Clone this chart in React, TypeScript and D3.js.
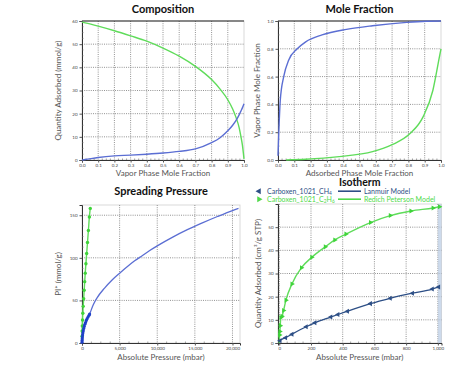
import React, { useRef, useEffect } from 'react';
import * as d3 from 'd3';

// Composition (vapor phase mole fraction vs quantity adsorbed)
const compX = [0, 0.02, 0.1, 0.2, 0.3, 0.4, 0.5, 0.6, 0.7, 0.8, 0.85, 0.9, 0.93, 0.95, 0.97, 0.98, 0.99, 1.0];
const compGreen = [59.5, 59.2, 57.8, 55.8, 53.6, 51.3, 48.3, 44.8, 40.4, 34.7, 30.8, 26.0, 22.0, 18.5, 14.0, 10.5, 6.5, 0.5];
const compBlue = [0, 0.2, 1.1, 1.8, 2.1, 2.5, 3.0, 3.7, 4.8, 7.5, 9.5, 12.6, 15.0, 17.0, 19.5, 21.0, 22.5, 24.3];

// Mole fraction (adsorbed vs vapor)
const mfBlueX = [0, 0.005, 0.014, 0.035, 0.066, 0.118, 0.17, 0.27, 0.42, 0.58, 0.79, 0.91, 1.0];
const mfBlueY = [0.03, 0.2, 0.43, 0.6, 0.72, 0.8, 0.85, 0.9, 0.94, 0.966, 0.99, 0.998, 1.0];
const mfGreenX = [0.05, 0.17, 0.375, 0.58, 0.7, 0.81, 0.89, 0.95, 0.99, 1.0];
const mfGreenY = [0, 0.005, 0.024, 0.06, 0.11, 0.19, 0.31, 0.5, 0.74, 0.8];

// Spreading pressure
const spGreenP = [5, 20, 40, 70, 110, 160, 220, 290, 360, 430, 520, 620, 730, 850, 980, 1100];
const spGreenPi = [8, 14, 20, 27, 35, 43, 52, 62, 72, 82, 93, 105, 118, 132, 148, 158];
const spBlueP = [5, 15, 30, 50, 80, 120, 170, 230, 300, 380, 470, 570, 680, 800, 930, 1010];
const spBluePi = [1, 3, 5, 7, 9.5, 12, 14.5, 17, 19.5, 22, 24, 26.5, 28.5, 30.5, 32.5, 34];
const spModelP = [1010, 1500, 2000, 3000, 4000, 5000, 6000, 7000, 8000, 9000, 10000, 12000, 14000, 16000, 18000, 20000, 20800];
const spModelPi = [34, 45, 53, 64.5, 74, 82, 89.5, 96.5, 102.5, 108.5, 114, 124, 133, 141, 148.5, 155.5, 158];

// Isotherm
const isoCH4P = [5, 40, 80, 170, 225, 325, 370, 430, 575, 700, 840, 965, 1005];
const isoCH4Q = [1.0, 2.3, 3.8, 7.0, 8.7, 11.2, 12.3, 13.7, 17.0, 19.3, 21.5, 23.3, 24.2];
const isoC2H6P = [2, 4, 6, 10, 17, 27, 42, 80, 140, 205, 290, 350, 420, 575, 700, 830, 970, 1010];
const isoC2H6Q = [3.5, 5, 7.5, 11, 11.5, 14, 18.5, 25.5, 32.5, 37, 41.5, 44.5, 47, 52, 55, 57, 58.3, 58.8];

const GREEN = "#5fdc5a";
const BLUE = "#5b6ed3";
const NAVY = "#2d4f86";
const DOT = "#1f40c8";

const zip = (xs: number[], ys: number[]) => xs.map((x, i) => [x, ys[i]] as [number, number]);

const App: React.FC = () => {
  const svgRef = useRef<SVGSVGElement>(null);

  useEffect(() => {
    if (!svgRef.current) return;
    const svg = d3.select(svgRef.current);
    svg.selectAll("*").remove();
    const font = "Lato, 'Open Sans', sans-serif";

    const panel = (o: {
      l: number; r: number; t: number; b: number;
      xd: [number, number]; yd: [number, number];
      xt: number[]; yt: number[]; xf: (d: number) => string; yf: (d: number) => string;
      title: string; ty: number; xl: string; xly: number; yl: string; ylx: number;
      darkTop?: boolean; titleSize?: number;
    }) => {
      const x = d3.scaleLinear().domain(o.xd).range([o.l, o.r]);
      const y = d3.scaleLinear().domain(o.yd).range([o.b, o.t]);
      const g = svg.append("g");
      // frame
      g.append("rect").attr("x", o.l).attr("y", o.t).attr("width", o.r - o.l).attr("height", o.b - o.t)
        .attr("fill", "white").attr("stroke", "#cfcfcf").attr("stroke-width", 0.8);
      // grid
      g.selectAll(".gx").data(o.xt.filter(d => x(d) > o.l + 1 && x(d) < o.r - 1)).enter().append("line")
        .attr("x1", d => x(d)).attr("x2", d => x(d)).attr("y1", o.t).attr("y2", o.b)
        .attr("stroke", "#777").attr("stroke-width", 0.8).attr("stroke-dasharray", "1,1.2");
      g.selectAll(".gy").data(o.yt.filter(d => y(d) < o.b - 1 && y(d) > o.t + 1)).enter().append("line")
        .attr("x1", o.l).attr("x2", o.r).attr("y1", d => y(d)).attr("y2", d => y(d))
        .attr("stroke", "#777").attr("stroke-width", 0.8).attr("stroke-dasharray", "1,1.2");
      if (o.darkTop) {
        g.append("line").attr("x1", o.l).attr("x2", o.r).attr("y1", o.t).attr("y2", o.t)
          .attr("stroke", "#222").attr("stroke-width", 1.2);
      }
      // axes
      const ax = g.append("g").attr("transform", `translate(0,${o.b})`)
        .call(d3.axisBottom(x).tickValues(o.xt).tickSize(2.5).tickPadding(1.5).tickFormat(d => o.xf(d as number)));
      const ay = g.append("g").attr("transform", `translate(${o.l},0)`)
        .call(d3.axisLeft(y).tickValues(o.yt).tickSize(2.5).tickPadding(2).tickFormat(d => o.yf(d as number)));
      [ax, ay].forEach(a => {
        a.select(".domain").attr("stroke", "#333").attr("stroke-width", 1);
        a.selectAll("line").attr("stroke", "#555");
        a.selectAll("text").attr("font-family", font).attr("font-size", "4.5px").attr("fill", "#444");
      });
      // minor ticks
      const minor = (ticks: number[]) => {
        const out: number[] = [];
        for (let i = 0; i < ticks.length - 1; i++) {
          const s = (ticks[i + 1] - ticks[i]) / 4;
          for (let k = 1; k < 4; k++) out.push(ticks[i] + s * k);
        }
        return out;
      };
      g.selectAll(".mx").data(minor(o.xt).filter(d => x(d) < o.r)).enter().append("line")
        .attr("x1", d => x(d)).attr("x2", d => x(d)).attr("y1", o.b).attr("y2", o.b - 1.5)
        .attr("stroke", "#666").attr("stroke-width", 0.6);
      g.selectAll(".my").data(minor(o.yt).filter(d => y(d) > o.t)).enter().append("line")
        .attr("x1", o.l).attr("x2", o.l + 1.5).attr("y1", d => y(d)).attr("y2", d => y(d))
        .attr("stroke", "#666").attr("stroke-width", 0.6);
      // labels
      svg.append("text").attr("x", (o.l + o.r) / 2).attr("y", o.ty).attr("text-anchor", "middle")
        .attr("font-family", font).attr("font-weight", "bold").attr("font-size", `${o.titleSize || 11}px`)
        .attr("fill", "#111").text(o.title);
      svg.append("text").attr("x", (o.l + o.r) / 2).attr("y", o.xly).attr("text-anchor", "middle")
        .attr("font-family", font).attr("font-size", "8px").attr("fill", "#555").text(o.xl);
      svg.append("text").attr("transform", `translate(${o.ylx},${(o.t + o.b) / 2}) rotate(-90)`)
        .attr("text-anchor", "middle").attr("font-family", font).attr("font-size", "8px").attr("fill", "#555").text(o.yl);
      return { x, y, g };
    };

    const line = (g: any, x: any, y: any, pts: [number, number][], color: string, w = 1.4) => {
      g.append("path").datum(pts)
        .attr("d", d3.line<[number, number]>().x(d => x(d[0])).y(d => y(d[1])).curve(d3.curveMonotoneX))
        .attr("fill", "none").attr("stroke", color).attr("stroke-width", w);
    };

    const f1 = d3.format(".1f");
    const f0 = d3.format(",d");

    // Composition
    const p1 = panel({
      l: 82, r: 244, t: 21, b: 160, xd: [0, 1], yd: [0, 60],
      xt: d3.range(0, 1.01, 0.1), yt: d3.range(0, 61, 10), xf: f1, yf: f0,
      title: "Composition", ty: 13, xl: "Vapor Phase Mole Fraction", xly: 175.5,
      yl: "Quantity Adsorbed (mmol/g)", ylx: 61, darkTop: true,
    });
    line(p1.g, p1.x, p1.y, zip(compX, compGreen), GREEN);
    line(p1.g, p1.x, p1.y, zip(compX, compBlue), BLUE);

    // Mole fraction
    const p2 = panel({
      l: 278, r: 441, t: 21, b: 160, xd: [0, 1], yd: [0, 1],
      xt: d3.range(0, 1.01, 0.1), yt: d3.range(0, 1.01, 0.2), xf: f1, yf: f1,
      title: "Mole Fraction", ty: 13, xl: "Adsorbed Phase Mole Fraction", xly: 175.5,
      yl: "Vapor Phase Mole Fraction", ylx: 260, darkTop: true,
    });
    line(p2.g, p2.x, p2.y, zip(mfGreenX, mfGreenY), GREEN);
    line(p2.g, p2.x, p2.y, zip(mfBlueX, mfBlueY), BLUE);

    // Spreading pressure
    const p3 = panel({
      l: 82, r: 240, t: 205, b: 343, xd: [0, 21000], yd: [0, 162],
      xt: [0, 5000, 10000, 15000, 20000], yt: [0, 50, 100, 150], xf: f0, yf: f0,
      title: "Spreading Pressure", ty: 195, xl: "Absolute Pressure (mbar)", xly: 360,
      yl: "PI* (mmol/g)", ylx: 61,
    });
    line(p3.g, p3.x, p3.y, [[0, 0] as [number, number]].concat(zip(spBlueP, spBluePi), zip(spModelP, spModelPi).slice(1)), BLUE, 1.3);
    line(p3.g, p3.x, p3.y, [[0, 0] as [number, number]].concat(zip(spGreenP, spGreenPi)), GREEN);
    p3.g.selectAll(".sg").data(zip(spGreenP, spGreenPi)).enter().append("circle")
      .attr("cx", d => p3.x(d[0])).attr("cy", d => p3.y(d[1])).attr("r", 1.7).attr("fill", "#3fd43a");
    p3.g.selectAll(".sb").data(zip(spBlueP, spBluePi)).enter().append("circle")
      .attr("cx", d => p3.x(d[0])).attr("cy", d => p3.y(d[1])).attr("r", 1.6).attr("fill", DOT);

    // Isotherm
    const p4 = panel({
      l: 278, r: 441.5, t: 204, b: 343, xd: [-8, 1023], yd: [0, 60],
      xt: [0, 200, 400, 600, 800, 1000], yt: [0, 10, 20, 30, 40, 50], xf: f0, yf: f0,
      title: "Isotherm", ty: 186, titleSize: 10.5, xl: "Absolute Pressure (mbar)", xly: 360,
      yl: "Quantity Adsorbed (cm³/g STP)", ylx: 261,
    });
    p4.g.append("rect").attr("x", p4.x(1000)).attr("y", 204).attr("width", 441.5 - p4.x(1000)).attr("height", 139)
      .attr("fill", "#b8cbe2").attr("opacity", 0.7);
    line(p4.g, p4.x, p4.y, [[0, 0] as [number, number]].concat(zip(isoCH4P, isoCH4Q)), NAVY, 1.3);
    line(p4.g, p4.x, p4.y, [[0, 0] as [number, number]].concat(zip(isoC2H6P, isoC2H6Q)), GREEN, 1.4);
    const tri = d3.symbol().type(d3.symbolTriangle).size(11);
    p4.g.selectAll(".tb").data(zip(isoCH4P, isoCH4Q)).enter().append("path").attr("d", tri)
      .attr("transform", d => `translate(${p4.x(d[0])},${p4.y(d[1])}) rotate(-90)`).attr("fill", NAVY);
    p4.g.selectAll(".tg").data(zip(isoC2H6P, isoC2H6Q)).enter().append("path").attr("d", tri)
      .attr("transform", d => `translate(${p4.x(d[0])},${p4.y(d[1])}) rotate(90)`).attr("fill", "#3fd43a");

    // legend
    const leg = svg.append("g").attr("font-family", font).attr("font-size", "7px");
    const rows = [
      { y: 193.5, c: NAVY, rot: -90, a: "Carboxen_1021_CH", sa: "4", b: "Lanmuir Model" },
      { y: 201.5, c: "#4fd94a", rot: 90, a: "Carboxen_1021_C", sa: "2", b: "Redich Peterson Model" },
    ];
    rows.forEach((r, i) => {
      leg.append("path").attr("d", d3.symbol().type(d3.symbolTriangle).size(16)())
        .attr("transform", `translate(259,${r.y - 2.3}) rotate(${r.rot})`).attr("fill", r.c);
      const t = leg.append("text").attr("x", 267).attr("y", r.y).attr("fill", r.c);
      t.append("tspan").text(r.a);
      t.append("tspan").attr("font-size", "4.8px").attr("dy", 1.2).text(r.sa);
      if (i === 1) {
        t.append("tspan").attr("dy", -1.2).text("H");
        t.append("tspan").attr("font-size", "4.8px").attr("dy", 1.2).text("6");
      }
      leg.append("line").attr("x1", 338).attr("x2", 361).attr("y1", r.y - 2.3).attr("y2", r.y - 2.3)
        .attr("stroke", r.c).attr("stroke-width", 1.6);
      leg.append("text").attr("x", 364).attr("y", r.y).attr("fill", r.c).text(r.b);
    });
  }, []);

  return (
    <div style={{ position: "fixed", left: 0, top: 0 }}>
      <svg ref={svgRef} width={450} height={365} style={{ display: "block", background: "white" }} />
    </div>
  );
};

export default App;
